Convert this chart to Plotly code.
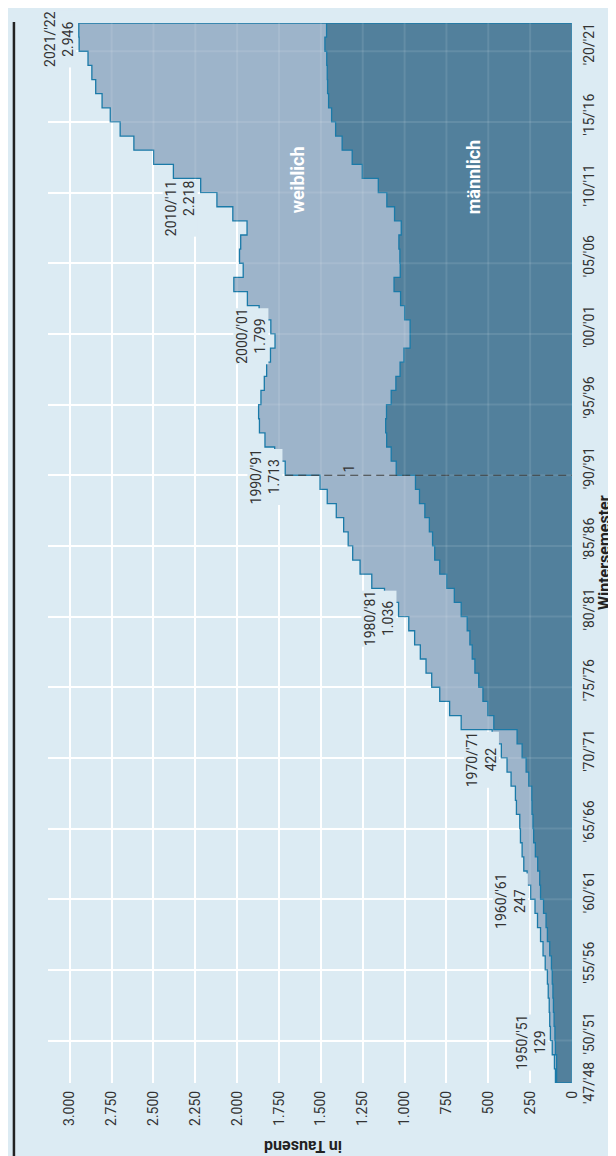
import plotly.graph_objects as go

# ---------------- data ----------------
years = list(range(1947, 2022))  # Wintersemester start year
total = [99, 105, 118, 129, 133, 136, 142, 147, 160, 173,
         188, 206, 221, 247, 268, 288, 298, 308, 312, 332,
         338, 364, 388, 422, 477, 662, 731, 790, 838, 872,
         906, 940, 975, 1036, 1120, 1196, 1266, 1310, 1337, 1364,
         1408, 1462, 1505, 1713, 1776, 1834, 1867, 1872, 1858, 1838,
         1824, 1801, 1774, 1799, 1869, 1939, 2020, 1964, 1986, 1979,
         1941, 2026, 2121, 2218, 2381, 2499, 2617, 2699, 2758, 2807,
         2845, 2868, 2891, 2944, 2946]
male = [92, 92, 99, 102, 107, 111, 114, 118, 123, 133,
        147, 155, 170, 188, 193, 205, 219, 229, 233, 239,
        240, 258, 274, 298, 328, 467, 503, 532, 557, 580,
        596, 610, 626, 662, 703, 748, 790, 820, 833, 852,
        879, 911, 935, 1050, 1080, 1107, 1113, 1108, 1080, 1052,
        1027, 1004, 967, 967, 1000, 1024, 1063, 1026, 1028, 1034,
        1020, 1060, 1106, 1157, 1253, 1313, 1373, 1412, 1436, 1454,
        1460, 1462, 1465, 1476, 1466]

value_ticks = [0, 250, 500, 750, 1000, 1250, 1500, 1750, 2000, 2250, 2500, 2750, 3000]
value_ticktext = ["0", "250", "500", "750", "1.000", "1.250", "1.500", "1.750",
                  "2.000", "2.250", "2.500", "2.750", "3.000"]
year_ticks = [1947, 1950, 1955, 1960, 1965, 1970, 1975, 1980, 1985, 1990,
              1995, 2000, 2005, 2010, 2015, 2020]
year_ticktext = ["'47/'48", "'50/'51", "'55/'56", "'60/'61", "'65/'66", "'70/'71",
                 "'75/'76", "'80/'81", "'85/'86", "'90/'91", "'95/'96", "'00/'01",
                 "'05/'06", "'10/'11", "'15/'16", "'20/'21"]
label_years = [1950, 1960, 1970, 1980, 1990, 2000, 2010, 2021]
reunification_year = 1990

# ---------------- style ----------------
BG = "#dcebf3"
LIGHT = "#9db4ca"
DARK = "#52809c"
EDGE = "#1a7aa8"
TXT = "#333333"
FONT = "Roboto, 'Open Sans', sans-serif"

def de(v):
    return f"{v:,}".replace(",", ".")

def polygon(vals):
    xs = [0] + vals + [vals[-1], 0, 0]
    ys = [years[0]] + years + [years[-1] + 1, years[-1] + 1, years[0]]
    return xs, ys

fig = go.Figure()
tx, ty = polygon(total)
fig.add_trace(go.Scatter(x=tx, y=ty, mode="lines", line=dict(color=EDGE, width=1.3, shape="vh"),
                         fill="toself", fillcolor=LIGHT, hoverinfo="skip", showlegend=False))
mx, my = polygon(male)
fig.add_trace(go.Scatter(x=mx, y=my, mode="lines", line=dict(color=EDGE, width=1.3, shape="vh"),
                         fill="toself", fillcolor=DARK, hoverinfo="skip", showlegend=False))

# dashed line at reunification
v90 = total[years.index(reunification_year)]
fig.add_trace(go.Scatter(x=[v90, 0], y=[reunification_year, reunification_year], mode="lines",
                         line=dict(color="#2a2a2a", width=1.2, dash="8px,5px"),
                         hoverinfo="skip", showlegend=False))

shapes = []
# faint grid showing through the filled areas
for v in value_ticks:
    shapes.append(dict(type="line", xref="x", yref="y", x0=v, x1=v, y0=years[0], y1=years[-1] + 1,
                       line=dict(color="rgba(255,255,255,0.10)", width=2), layer="above"))
for y in year_ticks[1:]:
    shapes.append(dict(type="line", xref="x", yref="y", x0=0, x1=3130, y0=y, y1=y,
                       line=dict(color="rgba(255,255,255,0.10)", width=2), layer="above"))
# black rule on the left
shapes.append(dict(type="line", xref="paper", yref="paper", x0=-0.065, x1=-0.065,
                   y0=-0.071, y1=1.001, line=dict(color="#222222", width=2.5)))

annotations = []
# year tick labels
for y, t in zip(year_ticks, year_ticktext):
    annotations.append(dict(xref="paper", yref="y", x=1, xshift=17,
                            y=y if y == years[0] else y + 0.5,
                            text=t, textangle=-90, showarrow=False,
                            xanchor="center", yanchor="middle",
                            font=dict(family=FONT, size=14, color=TXT)))
# value labels
for y in label_years:
    v = total[years.index(y)]
    txt = f"{y}/'{(y + 1) % 100:02d}<br>{de(v)}"
    if y == 2010:
        annotations.append(dict(xref="x", yref="y", x=v, y=y + 1, text=txt, textangle=-90,
                                showarrow=False, xanchor="right", yanchor="top", xshift=-2,
                                yshift=-1, align="right", bgcolor=BG, borderpad=0,
                                font=dict(family=FONT, size=14, color=TXT)))
    else:
        annotations.append(dict(xref="x", yref="y", x=v, y=y, text=txt, textangle=-90,
                                showarrow=False, xanchor="right", yanchor="middle", xshift=-2,
                                yshift=-2, align="center", bgcolor=BG, borderpad=0,
                                font=dict(family=FONT, size=14, color=TXT)))
# footnote marker
annotations.append(dict(xref="x", yref="y", x=1330, y=reunification_year + 0.5, text="1",
                        textangle=-90, showarrow=False, xanchor="center", yanchor="middle",
                        font=dict(family=FONT, size=14, color=TXT)))
# series names
annotations.append(dict(xref="x", yref="y", x=1640, y=2010.9, text="<b>weiblich</b>", textangle=-90,
                        showarrow=False, font=dict(family=FONT, size=18, color="white")))
annotations.append(dict(xref="x", yref="y", x=590, y=2011.1, text="<b>männlich</b>", textangle=-90,
                        showarrow=False, font=dict(family=FONT, size=18, color="white")))
# axis titles
annotations.append(dict(xref="paper", yref="paper", x=1, xshift=32, y=0.5, text="<b>Wintersemester</b>",
                        textangle=-90, showarrow=False, xanchor="center", yanchor="middle",
                        font=dict(family=FONT, size=16, color="#222222")))
annotations.append(dict(xref="paper", yref="paper", x=0.4866, y=-0.060, text="<b>in Tausend</b>",
                        textangle=180, showarrow=False, xanchor="center", yanchor="middle",
                        font=dict(family=FONT, size=16, color="#222222")))

fig.update_layout(
    width=616, height=1156,
    margin=dict(l=40, r=52, t=15, b=81),
    paper_bgcolor=BG, plot_bgcolor=BG,
    font=dict(family=FONT, color=TXT),
    shapes=shapes, annotations=annotations,
    xaxis=dict(range=[3130, 0], tickvals=value_ticks, ticktext=value_ticktext, tickangle=-90,
               showgrid=True, gridcolor="white", gridwidth=2, zeroline=False, showline=False,
               ticks="", tickfont=dict(family=FONT, size=14, color=TXT), ticklabelstandoff=4),
    yaxis=dict(range=[years[0], years[-1] + 1], tickvals=year_ticks, showticklabels=False,
               showgrid=True, gridcolor="white", gridwidth=2, zeroline=False, showline=False,
               ticks=""),
)

fig.write_html("out.html")
